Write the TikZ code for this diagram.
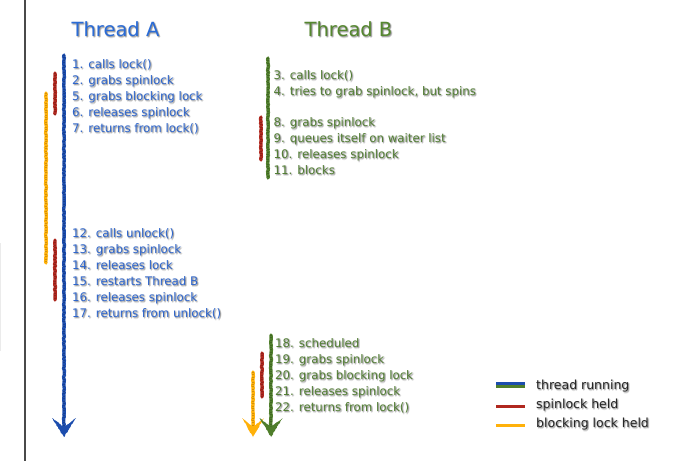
\documentclass[tikz,border=0pt]{standalone}
\usepackage{fontspec}
\setmainfont{DejaVu Sans}
\usetikzlibrary{decorations.pathmorphing,calc}

\definecolor{runA}{HTML}{1C4DAE}
\definecolor{runB}{HTML}{4F7E2B}
\definecolor{spin}{HTML}{B0281F}
\definecolor{block}{HTML}{FFB10A}
\definecolor{txtA}{HTML}{2F66CC}
\definecolor{txtB}{HTML}{537E35}
\definecolor{headA}{HTML}{2A6BD6}
\definecolor{headB}{HTML}{55872F}
\definecolor{frame}{HTML}{4A4A4A}

\tikzset{
  crayon/.style={line width=3.4pt, line cap=round, decorate,
    decoration={random steps, segment length=1.6pt, amplitude=0.35pt}},
  grain/.style={line width=1.8pt, dash pattern=on 0.7pt off 1.7pt, opacity=0.45},
  tip/.style={decorate, decoration={random steps, segment length=1.5pt, amplitude=0.4pt}},
  steptext/.style={anchor=base west, inner sep=0pt, font=\fontsize{11.8}{14}\selectfont},
  headtext/.style={anchor=base, inner sep=0pt, font=\fontsize{19.5}{22}\selectfont},
  keytext/.style={anchor=base west, inner sep=0pt, font=\fontsize{12.5}{15}\selectfont},
  keybar/.style={line width=3pt},
}

% text with a soft drop shadow: name, position, style, colour, text
\newcommand\shadowed[5]{%
  \foreach \sx/\sy in {0.3/1.5,1.7/1.5,1/0.8,1/2.3,1/1.5}{%
    \node[#3,text=black,opacity=0.11] at ($(#2)+(\sx,\sy)$) {#5};}
  \node[#3,text=#4] (#1) at (#2) {#5};
}

% a crayon stroke with a grainy overlay: colour, top, bottom
\newcommand\crayonbar[3]{%
  \draw[crayon,#1] (#2) -- (#3);
  \draw[grain,#1!60!black] (#2) -- (#3);
}

\begin{document}
\begin{tikzpicture}[x=1pt,y=-1pt]
  \pgfmathsetseed{7}
  \useasboundingbox (0,0) rectangle (695,461);
  \fill[white] (0,0) rectangle (695,461);

  % page frame
  \draw[frame, line width=1.8pt] (25,0) -- (25,461);
  \draw[black!8, line width=0.8pt] (0.5,243) -- (0.5,351);

  % column headings
  \shadowed{headA}{115.5,36}{headtext}{headA}{Thread A}
  \shadowed{headB}{348.5,36}{headtext}{headB}{Thread B}

  % ---- Thread A ----
  \crayonbar{block}{46,93}{46,263}
  \crayonbar{spin}{55,73}{55,114}
  \crayonbar{spin}{55,240}{55,300}
  \crayonbar{runA}{64,55}{64,428}
  \fill[runA, tip] (52,418) -- (64,437) -- (76,418) -- (64,427) -- cycle;

  \shadowed{a1}{72,68}{steptext}{txtA}{1. calls lock()}
  \shadowed{a2}{72,84}{steptext}{txtA}{2. grabs spinlock}
  \shadowed{a5}{72,100}{steptext}{txtA}{5. grabs blocking lock}
  \shadowed{a6}{72,116}{steptext}{txtA}{6. releases spinlock}
  \shadowed{a7}{72,132}{steptext}{txtA}{7. returns from lock()}

  \shadowed{a12}{72,237}{steptext}{txtA}{12. calls unlock()}
  \shadowed{a13}{72,253}{steptext}{txtA}{13. grabs spinlock}
  \shadowed{a14}{72,269}{steptext}{txtA}{14. releases lock}
  \shadowed{a15}{72,285}{steptext}{txtA}{15. restarts Thread B}
  \shadowed{a16}{72,301}{steptext}{txtA}{16. releases spinlock}
  \shadowed{a17}{72,317}{steptext}{txtA}{17. returns from unlock()}

  % ---- Thread B, first run ----
  \crayonbar{spin}{261,117}{261,160}
  \crayonbar{runB}{268,58}{268,178}

  \shadowed{b3}{273.5,79}{steptext}{txtB}{3. calls lock()}
  \shadowed{b4}{273.5,95}{steptext}{txtB}{4. tries to grab spinlock, but spins}
  \shadowed{b8}{273.5,126}{steptext}{txtB}{8. grabs spinlock}
  \shadowed{b9}{273.5,142}{steptext}{txtB}{9. queues itself on waiter list}
  \shadowed{b10}{273.5,158}{steptext}{txtB}{10. releases spinlock}
  \shadowed{b11}{273.5,174}{steptext}{txtB}{11. blocks}

  % ---- Thread B, second run ----
  \crayonbar{block}{253,372}{253,428}
  \fill[block, tip] (242,418) -- (253,437) -- (264,418) -- (253,427) -- cycle;
  \crayonbar{spin}{262,353}{262,397}
  \crayonbar{runB}{271,335}{271,428}
  \fill[runB, tip] (259.5,418) -- (271,437) -- (282.5,418) -- (271,427) -- cycle;

  \shadowed{b18}{275,347}{steptext}{txtB}{18. scheduled}
  \shadowed{b19}{275,363}{steptext}{txtB}{19. grabs spinlock}
  \shadowed{b20}{275,379}{steptext}{txtB}{20. grabs blocking lock}
  \shadowed{b21}{275,395}{steptext}{txtB}{21. releases spinlock}
  \shadowed{b22}{275,411}{steptext}{txtB}{22. returns from lock()}

  % ---- key ----
  \draw[keybar, runA] (496,383.5) -- (525,383.5);
  \draw[keybar, runB] (496,386.8) -- (525,386.8);
  \draw[keybar, spin] (496,406) -- (525,406);
  \draw[keybar, block] (496,425) -- (525,425);

  \shadowed{k1}{536,389}{keytext}{black!85}{thread running}
  \shadowed{k2}{536,408}{keytext}{black!85}{spinlock held}
  \shadowed{k3}{536,427}{keytext}{black!85}{blocking lock held}
\end{tikzpicture}
\end{document}
